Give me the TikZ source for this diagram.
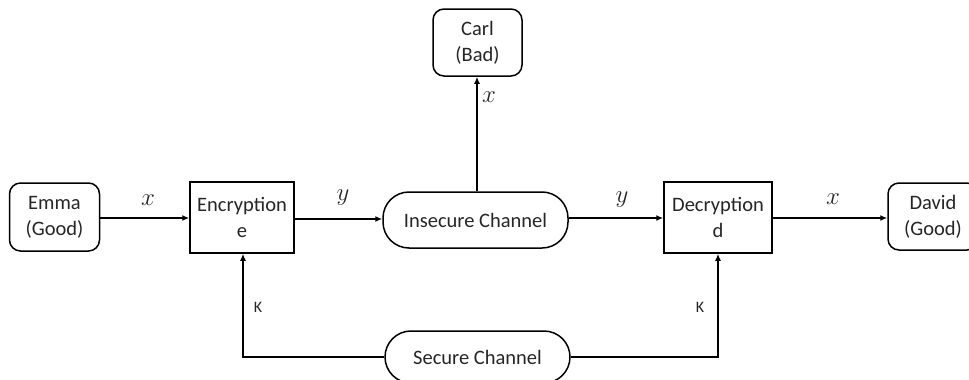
\documentclass[tikz,border=0pt]{standalone}
\usepackage{fontspec}
\setmainfont{Carlito}
\usetikzlibrary{arrows.meta}
\begin{document}
\begin{tikzpicture}[x=1pt,y=-1pt,
  every node/.style={font=\fontsize{20.5}{26}\selectfont, align=center, inner sep=0pt, text=black!85},
  party/.style={draw, line width=1.5pt, rounded corners=11pt},
  proc/.style={draw, line width=1.5pt},
  channel/.style={draw, line width=1.5pt, rounded corners=26pt},
  arr/.style={line width=1.4pt, -{Latex[length=7pt,width=6pt]}},
  sym/.style={font=\fontsize{29}{29}\selectfont},
  keylbl/.style={font=\fontsize{16}{16}\selectfont}]
  \clip (0,0) rectangle (969,380);
  \fill[white] (0,0) rectangle (969,380);

  % participants and processing blocks
  \node[party, minimum width=90pt, minimum height=68pt] (emma) at (54.5,217) {Emma\\(Good)};
  \node[proc, minimum width=104pt, minimum height=71pt] (enc) at (242,217.5) {Encryption\\e};
  \node[channel, minimum width=185pt, minimum height=56pt] (ins) at (475.5,220) {Insecure Channel};
  \node[party, minimum width=89pt, minimum height=67pt] (carl) at (477.5,42.5) {Carl\\(Bad)};
  \node[proc, minimum width=108pt, minimum height=71pt] (dec) at (718,217.5) {Decryption\\d};
  \node[party, minimum width=90pt, minimum height=67pt] (david) at (933,216.5) {David\\(Good)};
  \node[channel, minimum width=185pt, minimum height=52pt] (sec) at (477.5,357) {Secure Channel};

  % message flow
  \draw[arr] (emma.east |- 0,218) -- (enc.west |- 0,218);
  \draw[arr] (enc.east |- 0,219) -- (ins.west |- 0,219);
  \draw[arr] (ins.east |- 0,218) -- (dec.west |- 0,218);
  \draw[arr] (dec.east |- 0,218) -- (david.west |- 0,218);
  \draw[arr] (ins.north -| 477,0) -- (carl.south -| 477,0);

  % key distribution
  \coordinate (kl) at (243,357);
  \coordinate (kr) at (718,357);
  \draw[arr] (sec.west) -- (kl) -- (kl |- enc.south);
  \draw[arr] (sec.east) -- (kr) -- (kr |- dec.south);

  % labels
  \node[sym] (lx1) at (148,200) {$x$};
  \node[sym] (ly1) at (343,198) {$y$};
  \node[sym] (ly2) at (622,200) {$y$};
  \node[sym] (lx2) at (833,199) {$x$};
  \node[sym] (lx3) at (489,97) {$x$};
  \node[keylbl] (k1) at (258,307) {K};
  \node[keylbl] (k2) at (700,307) {K};
\end{tikzpicture}
\end{document}
